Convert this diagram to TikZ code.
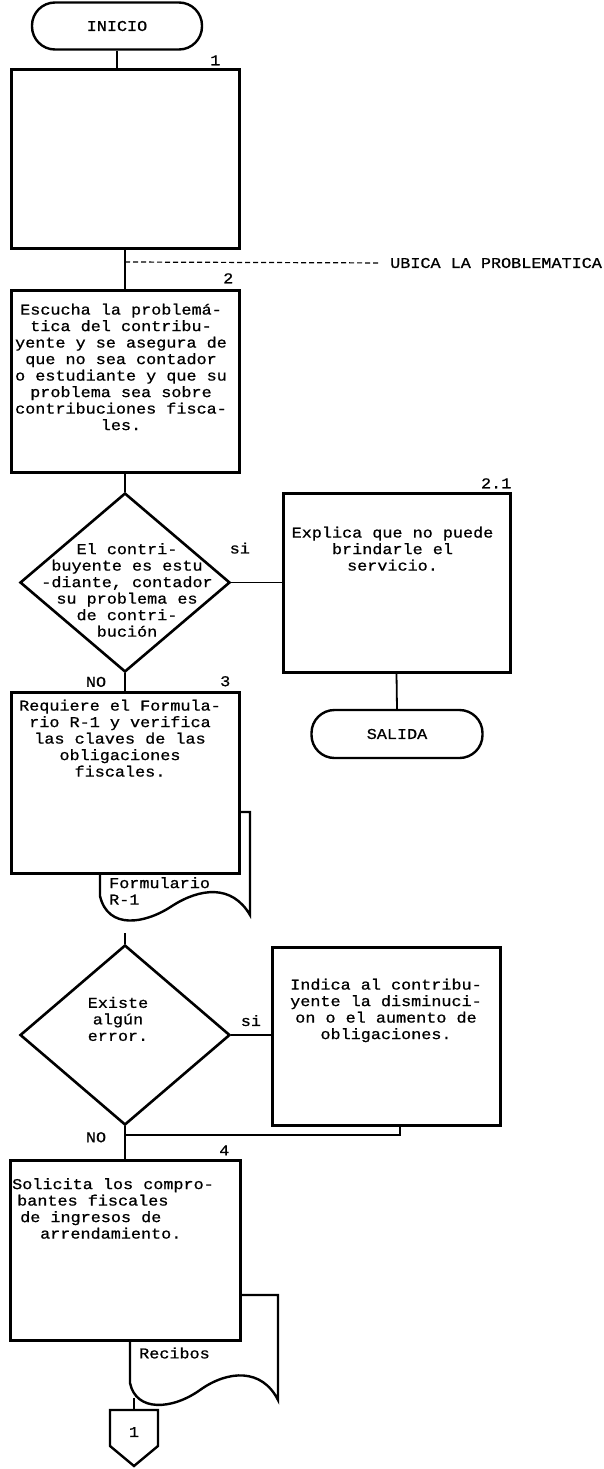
\documentclass[tikz,border=0pt]{standalone}
\usepackage{fontspec}
\newfontfamily\dotmx[FakeStretch=1.12,FakeBold=0.8]{Liberation Mono}
\usepackage{tikz}
\usetikzlibrary{shapes.geometric,positioning,calc}

\begin{document}
\begin{tikzpicture}[x=1pt, y=-1pt,
  box/.style={rectangle, draw, line width=3pt, fill=white,
              minimum width=228pt, inner sep=0pt},
  term/.style={rectangle, draw, line width=2.4pt, rounded corners=23pt,
               minimum width=170pt, minimum height=47pt, inner sep=0pt,
               font=\dotmx\fontsize{15}{16.5}\selectfont},
  decision/.style={diamond, draw, line width=2.6pt, minimum width=210pt,
                   minimum height=179pt, inner sep=0pt},
  txt/.style={font=\dotmx\fontsize{15}{16.5}\selectfont, align=center, inner sep=0pt},
  num/.style={font=\dotmx\fontsize{15}{16.5}\selectfont, inner sep=0pt},
  link/.style={line width=1.8pt},
  doc/.style={draw, line width=2.4pt, fill=white}
]
  \useasboundingbox (0,0) rectangle (604,1469);

  % Inicio
  \node[term] (inicio) at (117,26) {INICIO};

  % Paso 1
  \node[box, minimum height=178pt] (b1) at (125,159) {};
  \node[num, above left=3pt and 20pt of b1.north east] (n1) {1};
  \draw[link] (inicio.south) -- (inicio.south |- b1.north);

  % Paso 2
  \node[box, minimum height=182pt] (b2) at (125,381) {};
  \node[txt, below=15pt of b2.north, xshift=-4pt] (t2) {
    Escucha la problemá-\\tica del contribu-\\yente y se asegura de\\
    que no sea contador\\o estudiante y que su\\problema sea sobre\\
    contribuciones fisca-\\les.};
  \node[num, above left=5pt and 7pt of b2.north east] (n2) {2};
  \coordinate (c12) at (125,262);
  \node[num, anchor=west] (ubica) at (390,263) {UBICA LA PROBLEMATICA};
  \draw[link] (b1.south) -- (b2.north);
  \draw[line width=1.2pt, dash pattern=on 5pt off 3pt, shorten >=10pt]
    (c12) -- (ubica.west);

  % Decision 1
  \node[decision] (d1) at (125,582.5) {};
  \node[txt] (q1) at (127,590) {El contri-\\buyente es estu\\-diante, contador\\
    su problema es\\de contri-\\bución};
  \draw[link] (b2.south) -- (d1.north);

  % Paso 2.1
  \node[box, minimum width=227pt, minimum height=179pt] (b21) at (396.5,582.5) {};
  \node[txt, below=35pt of b21.north, xshift=-4pt] (t21) {
    Explica que no puede\\brindarle el\\servicio.};
  \node[num, above left=3pt and 0pt of b21.north east] (n21) {2.1};
  \draw[link] (d1.east) -- node[num, pos=0.17, above=28pt] (si1) {si} (b21.west);

  \node[term, minimum width=171pt, minimum height=48pt] (salida) at (397,734) {SALIDA};
  \draw[link] (b21.south) -- (salida.north);

  % Paso 3
  \draw[doc] (100,812) -- (250,812) -- (250,915)
    .. controls (232,884) and (200,888) .. (172,906)
    .. controls (145,924) and (108,930) .. (100,896) -- cycle;
  \node[box, minimum height=181pt] (b3) at (125,782.5) {};
  \node[txt, below=9pt of b3.north, xshift=-5pt] (t3) {
    Requiere el Formula-\\rio R-1 y verifica\\las claves de las\\
    obligaciones\\fiscales.};
  \node[num, above left=4pt and 10pt of b3.north east] (n3) {3};
  \draw[link] (d1.south) -- node[num, left=18pt] (no1) {NO} (b3.north);
  \node[txt, align=left, anchor=north west] (r1) at (109,877) {Formulario\\R-1};
  \coordinate (r1bot) at (125,933);

  % Decision 2
  \node[decision, minimum height=180pt] (d2) at (125,1035) {};
  \node[txt] (q2) at (118,1019) {Existe\\algún\\error.};
  \draw[link] (r1bot) -- (d2.north);

  \node[box, minimum height=178pt] (ind) at (386,1036) {};
  \node[txt, below=33pt of ind.north] (tind) {
    Indica al contribu-\\yente la disminuci-\\on o el aumento de\\
    obligaciones.};
  \draw[link] (d2.east) -- node[num, above=8pt] (si2) {si} (d2.east -| ind.west);

  % Paso 4
  \draw[doc] (130,1295) -- (278,1295) -- (278,1400)
    .. controls (262,1368) and (228,1370) .. (200,1390)
    .. controls (172,1410) and (136,1412) .. (130,1383) -- cycle;
  \node[box, minimum width=230pt, minimum height=180pt] (b4) at (125,1250) {};
  \node[txt, align=left, anchor=north west] (t4) at (12,1178) {
    Solicita los compro-\\\hspace*{5pt}bantes fiscales\\
    \hspace*{8pt}de ingresos de\\\hspace*{28pt}arrendamiento.};
  \node[num, above left=3pt and 12pt of b4.north east] (n4) {4};
  \coordinate (jn) at (125,1135);
  \draw[link] (d2.south) -- node[num, pos=0.34, left=18pt] (no2) {NO} (b4.north);
  \draw[link] ([xshift=14pt]ind.south) |- (jn);
  \node[txt, anchor=west] (rec) at (139,1353) {Recibos};
  \coordinate (recbot) at (134,1398);

  % Conector fuera de pagina
  \coordinate (ofptop) at (134,1410);
  \draw[doc] (110,1410) -- (158,1410) -- (158,1446) -- (134,1466)
    -- (110,1446) -- cycle;
  \node[num] (ofp) at (134,1432) {1};
  \draw[link] (recbot) -- (ofptop);
\end{tikzpicture}
\end{document}
